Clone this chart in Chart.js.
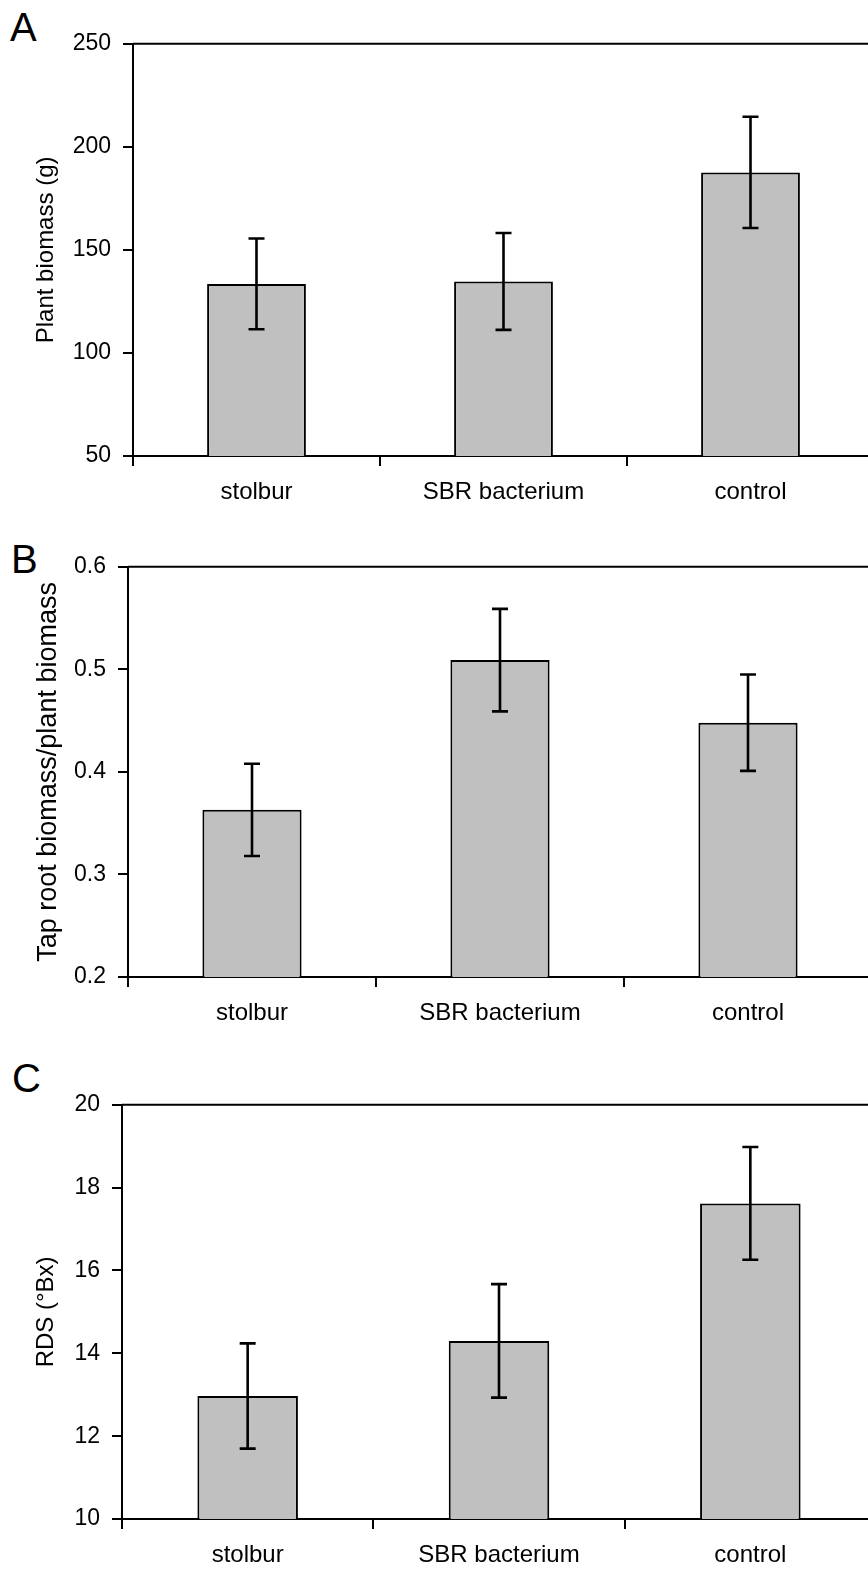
<!DOCTYPE html>
<html>
<head>
<meta charset="utf-8">
<script src="https://cdn.jsdelivr.net/npm/chart.js@4"></script>
<style>
  html, body { margin:0; padding:0; background:#fff; overflow:hidden; width:868px; height:1570px; }
  .panel { position:absolute; left:0; }
  .letter { position:absolute; font-family:"Liberation Sans", Arial, sans-serif; font-size:40px; line-height:40px; color:#000; }
</style>
</head>
<body>
<div class="letter" style="left:10px;top:7px">A</div>
<div class="letter" style="left:11px;top:539px">B</div>
<div class="letter" style="left:12px;top:1058px">C</div>
<div class="panel" style="top:18px;width:874px;height:498px"><canvas id="cA"></canvas></div>
<div class="panel" style="top:541px;width:872px;height:496px"><canvas id="cB"></canvas></div>
<div class="panel" style="top:1079px;width:876px;height:500px"><canvas id="cC"></canvas></div>
<script>
const categories = ["stolbur", "SBR bacterium", "control"];

const biomass    = [133.5, 134.7, 187.6];
const biomassErr = [22, 23.5, 27];
const biomassTicks = [50, 100, 150, 200, 250];

const ratio    = [0.363, 0.509, 0.448];
const ratioErr = [0.045, 0.05, 0.047];
const ratioTicks = [0.2, 0.3, 0.4, 0.5, 0.6];
const ratioTickLabels = ["0.2", "0.3", "0.4", "0.5", "0.6"];

const rds    = [12.97, 14.3, 17.62];
const rdsErr = [1.27, 1.37, 1.36];
const rdsTicks = [10, 12, 14, 16, 18, 20];

const FONT = "'Liberation Sans', Arial, sans-serif";

const errorBars = {
  id: "errorBars",
  afterDatasetsDraw(chart, args, opts){
    const { ctx, chartArea } = chart;
    const y = chart.scales.y;
    const meta = chart.getDatasetMeta(0);
    const vals = chart.data.datasets[0].data;
    ctx.save();
    ctx.strokeStyle = "#000";
    // frame: top and right of plot area
    ctx.lineWidth = 2;
    ctx.beginPath();
    ctx.moveTo(chartArea.left, chartArea.top);
    ctx.lineTo(chartArea.right - 1, chartArea.top);
    ctx.lineTo(chartArea.right - 1, chartArea.bottom);
    ctx.stroke();
    ctx.lineWidth = 2.6;
    meta.data.forEach((bar, i) => {
      const v = vals[i], e = opts.err[i];
      const t = y.getPixelForValue(v + e), b = y.getPixelForValue(v - e);
      ctx.beginPath();
      ctx.moveTo(bar.x, t); ctx.lineTo(bar.x, b);
      ctx.moveTo(bar.x - 8, t); ctx.lineTo(bar.x + 8, t);
      ctx.moveTo(bar.x - 8, b); ctx.lineTo(bar.x + 8, b);
      ctx.stroke();
    });
    ctx.restore();
  }
};

function makePanel(id, values, errs, ticks, labels, title, titleSize, axisW){
  new Chart(document.getElementById(id), {
    type: "bar",
    data: {
      labels: categories,
      datasets: [{ data: values, backgroundColor: "#c0c0c0", borderColor: "#000", borderWidth: 2,
        barPercentage: 0.4, categoryPercentage: 1 }]
    },
    plugins: [errorBars],
    options: {
      responsive: true, maintainAspectRatio: false, animation: false,
      layout: { padding: { top: 20, left: 0, right: 0, bottom: 0 } },
      plugins: { legend: { display: false }, tooltip: { enabled: false }, errorBars: { err: errs } },
      scales: {
        x: {
          offset: true,
          grid: { offset: true, drawOnChartArea: false, drawTicks: true, tickLength: 10, color: "#000", lineWidth: 2 },
          border: { display: true, color: "#000", width: 2 },
          ticks: { color: "#000", font: { family: FONT, size: 24 }, padding: 12 },
          afterFit: s => { s.height = 60; }
        },
        y: {
          min: ticks[0], max: ticks[ticks.length - 1],
          afterBuildTicks: s => { s.ticks = ticks.map(v => ({ value: v })); },
          grid: { drawOnChartArea: false, drawTicks: true, tickLength: 10, color: "#000", lineWidth: 2 },
          border: { display: true, color: "#000", width: 2 },
          ticks: { color: "#000", font: { family: FONT, size: 23 }, padding: 12,
            callback: (v, i) => labels ? labels[i] : String(v) },
          title: { display: true, text: title, color: "#000", font: { family: FONT, size: titleSize },
            padding: { top: 32, bottom: 0 } },
          afterFit: s => { s.width = axisW; }
        }
      }
    }
  });
}

makePanel("cA", biomass, biomassErr, biomassTicks, null, "Plant biomass (g)", 24, 133);
makePanel("cB", ratio, ratioErr, ratioTicks, ratioTickLabels, "Tap root biomass/plant biomass", 27, 128);
makePanel("cC", rds, rdsErr, rdsTicks, null, "RDS (°Bx)", 24, 122);
</script>
</body>
</html>
